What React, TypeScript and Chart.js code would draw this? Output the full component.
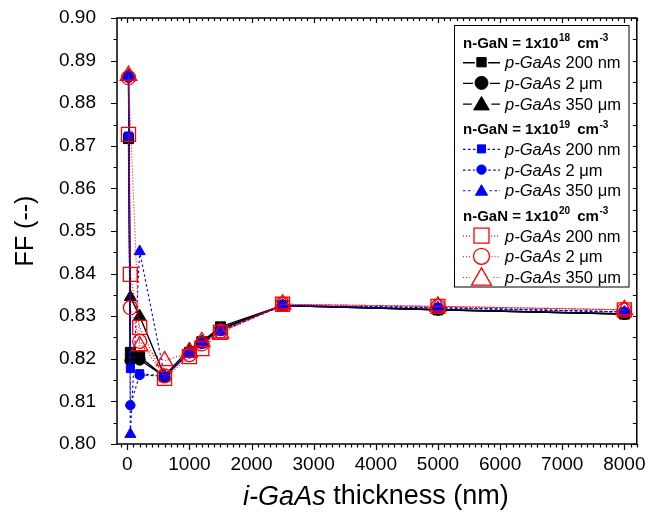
import React, { useEffect, useRef } from "react";
import { Chart, registerables } from "chart.js";

Chart.register(...registerables);

// ---------------- data ----------------
const thickness = [20, 50, 200, 600, 1000, 1200, 1500, 2500, 5000, 8000];

// n-GaN = 1x10^18 cm^-3
const n18_200nm = [0.8717, 0.8215, 0.8205, 0.8158, 0.8215, 0.824, 0.8275, 0.8325, 0.8315, 0.8305];
const n18_2um = [0.8862, 0.8196, 0.8198, 0.8158, 0.8215, 0.8238, 0.827, 0.8325, 0.8315, 0.8305];
const n18_350um = [0.8865, 0.8345, 0.83, 0.816, 0.8223, 0.824, 0.827, 0.8325, 0.8315, 0.8305];
// n-GaN = 1x10^19 cm^-3
const n19_200nm = [0.8723, 0.8177, 0.8165, 0.8159, 0.8213, 0.8235, 0.8265, 0.8325, 0.832, 0.831];
const n19_2um = [0.886, 0.8091, 0.8162, 0.8159, 0.8213, 0.8235, 0.8265, 0.8325, 0.832, 0.831];
const n19_350um = [0.8865, 0.8023, 0.8452, 0.816, 0.8215, 0.8237, 0.8265, 0.8325, 0.832, 0.831];
// n-GaN = 1x10^20 cm^-3
const n20_200nm = [0.8727, 0.8398, 0.8274, 0.8154, 0.8205, 0.8224, 0.8262, 0.8328, 0.8323, 0.8315];
const n20_2um = [0.886, 0.832, 0.8241, 0.816, 0.821, 0.8235, 0.8265, 0.8328, 0.8323, 0.8315];
const n20_350um: (number | null)[] = [0.8865, null, 0.823, 0.8195, 0.8215, 0.824, 0.826, 0.8328, 0.8323, 0.8315];

const dopingExponents = ["18", "19", "20"];
const pThicknessLabels = ["200 nm", "2 \u03bcm", "350 \u03bcm"];

const xTicks = [0, 1000, 2000, 3000, 4000, 5000, 6000, 7000, 8000];
const yTicks = [0.8, 0.81, 0.82, 0.83, 0.84, 0.85, 0.86, 0.87, 0.88, 0.89, 0.9];

const seriesValues = [
  n18_200nm, n18_2um, n18_350um,
  n19_200nm, n19_2um, n19_350um,
  n20_200nm, n20_2um, n20_350um,
];

// ---------------- styles ----------------
const FONT = '"Liberation Sans", Arial, Helvetica, sans-serif';

type Style = {
  color: string;
  shape: "rect" | "circle" | "triangle";
  r: number; // plot radius
  lr: number; // legend radius
  filled: boolean;
  dash: number[];
  lineWidth: number;
  pointBorder: number;
  order: number;
};

const groupLook = [
  { color: "#000000", filled: true, dash: [] as number[], lineWidth: 1.4, pointBorder: 1, order: 30 },
  { color: "#0000ff", filled: true, dash: [2.5, 2.5], lineWidth: 1.1, pointBorder: 1, order: 20 },
  { color: "#ff0000", filled: false, dash: [1, 2], lineWidth: 1.1, pointBorder: 1.3, order: 10 },
];
const shapes: ("rect" | "circle" | "triangle")[] = ["rect", "circle", "triangle"];
const plotRadius = [
  [7.1, 5.5, 6.9],
  [5.7, 4.7, 6.4],
  [9.9, 7.0, 9.5],
];
const legendRadius = [
  [6.6, 6.5, 9.0],
  [5.7, 4.7, 7.0],
  [10.6, 8.0, 11.5],
];

const styles: Style[] = [];
for (let g = 0; g < 3; g++) {
  for (let k = 0; k < 3; k++) {
    const lk = groupLook[g];
    styles.push({
      color: lk.color,
      shape: shapes[k],
      r: plotRadius[g][k],
      lr: legendRadius[g][k],
      filled: lk.filled,
      dash: lk.dash,
      lineWidth: lk.lineWidth,
      pointBorder: lk.pointBorder,
      order: lk.order - k,
    });
  }
}

function drawMarker(ctx: CanvasRenderingContext2D, x: number, y: number, st: Style, r: number) {
  ctx.save();
  ctx.setLineDash([]);
  ctx.beginPath();
  if (st.shape === "rect") {
    const s = Math.SQRT1_2 * r;
    ctx.rect(x - s, y - s, 2 * s, 2 * s);
  } else if (st.shape === "circle") {
    ctx.arc(x, y, r, 0, Math.PI * 2);
  } else {
    let a = 0;
    ctx.moveTo(x + Math.sin(a) * r, y - Math.cos(a) * r);
    a += (2 * Math.PI) / 3;
    ctx.lineTo(x + Math.sin(a) * r, y - Math.cos(a) * r);
    a += (2 * Math.PI) / 3;
    ctx.lineTo(x + Math.sin(a) * r, y - Math.cos(a) * r);
    ctx.closePath();
  }
  if (st.filled) {
    ctx.fillStyle = st.color;
    ctx.fill();
  }
  ctx.strokeStyle = st.color;
  ctx.lineWidth = st.pointBorder;
  ctx.stroke();
  ctx.restore();
}

const decorPlugin = {
  id: "decor",
  afterDraw(chart: any) {
    const ctx: CanvasRenderingContext2D = chart.ctx;
    const { left, right, top, bottom } = chart.chartArea;
    const xs = chart.scales.x;
    const ys = chart.scales.y;
    ctx.save();

    // frame
    ctx.strokeStyle = "#000";
    ctx.lineWidth = 1.5;
    ctx.setLineDash([]);
    ctx.strokeRect(left, top, right - left, bottom - top);

    // y ticks
    ctx.lineWidth = 1.2;
    for (let i = 0; i <= 20; i++) {
      const v = 0.8 + i * 0.005;
      const y = Math.round(ys.getPixelForValue(v)) + 0.5;
      const major = i % 2 === 0;
      ctx.beginPath();
      ctx.moveTo(left - (major ? 6 : 3.5), y);
      ctx.lineTo(left, y);
      ctx.moveTo(right - 4, y);
      ctx.lineTo(right, y);
      ctx.stroke();
    }
    // x ticks
    for (let i = -2; i <= 82; i++) {
      const v = i * 100;
      if (v < xs.min || v > xs.max) continue;
      const x = Math.round(xs.getPixelForValue(v)) + 0.5;
      const major = i % 10 === 0;
      ctx.beginPath();
      ctx.moveTo(x, bottom);
      ctx.lineTo(x, bottom + (major ? 6 : 3.5));
      ctx.moveTo(x, top);
      ctx.lineTo(x, top + (major ? 5 : 3));
      ctx.stroke();
    }

    // axis titles
    ctx.fillStyle = "#000";
    ctx.textBaseline = "middle";
    ctx.textAlign = "left";
    const xSize = 27;
    ctx.font = `italic ${xSize}px ${FONT}`;
    const a = "i-GaAs";
    const wa = ctx.measureText(a).width;
    ctx.font = `${xSize}px ${FONT}`;
    const b = " thickness (nm)";
    const wb = ctx.measureText(b).width;
    const cxT = (left + right) / 2 - 1;
    const startX = cxT - (wa + wb) / 2;
    ctx.font = `italic ${xSize}px ${FONT}`;
    ctx.fillText(a, startX, 497);
    ctx.font = `${xSize}px ${FONT}`;
    ctx.fillText(b, startX + wa, 497);

    ctx.save();
    ctx.translate(26, (top + bottom) / 2);
    ctx.rotate(-Math.PI / 2);
    ctx.textAlign = "center";
    ctx.font = `25px ${FONT}`;
    ctx.fillText("FF (--)", 0, 0);
    ctx.restore();

    // legend
    const bx = 454.5, by = 25.5, bw = 174.5, bh = 261.5;
    ctx.fillStyle = "#fff";
    ctx.fillRect(bx, by, bw, bh);
    ctx.strokeStyle = "#000";
    ctx.lineWidth = 1;
    ctx.strokeRect(bx, by, bw, bh);

    ctx.textBaseline = "alphabetic";
    ctx.textAlign = "left";
    for (let g = 0; g < 3; g++) {
      const hy = 41.5 + g * 86.7;
      // header
      let x = 463;
      const base = hy + 6;
      ctx.fillStyle = "#000";
      ctx.font = `bold 15px ${FONT}`;
      const h1 = "n-GaN = 1x10";
      ctx.fillText(h1, x, base);
      x += ctx.measureText(h1).width + 0.5;
      ctx.font = `bold 10px ${FONT}`;
      ctx.fillText(dopingExponents[g], x, base - 6.5);
      x += ctx.measureText(dopingExponents[g]).width + 3;
      ctx.font = `bold 15px ${FONT}`;
      ctx.fillText(" cm", x, base);
      x += ctx.measureText(" cm").width + 0.5;
      ctx.font = `bold 10px ${FONT}`;
      ctx.fillText("-3", x, base - 6.5);

      for (let k = 0; k < 3; k++) {
        const st = styles[g * 3 + k];
        const cy = hy + 20.7 * (k + 1);
        const mx = 481.5;
        const gap = st.shape === "triangle" ? st.lr * 0.866 + 2 : (st.shape === "rect" ? st.lr * Math.SQRT1_2 : st.lr) + 2;
        ctx.save();
        ctx.strokeStyle = st.color;
        ctx.lineWidth = st.lineWidth;
        ctx.setLineDash(st.dash);
        ctx.beginPath();
        ctx.moveTo(463, cy + 0.5);
        ctx.lineTo(mx - gap, cy + 0.5);
        ctx.moveTo(mx + gap, cy + 0.5);
        ctx.lineTo(500, cy + 0.5);
        ctx.stroke();
        ctx.restore();
        const my = st.shape === "triangle" ? cy + st.lr * 0.2 : cy;
        drawMarker(ctx, mx, my, st, st.lr);

        ctx.fillStyle = "#000";
        ctx.font = `italic 16.5px ${FONT}`;
        const it = "p-GaAs";
        ctx.fillText(it, 505, cy + 6);
        const wi = ctx.measureText(it).width;
        ctx.font = `16.5px ${FONT}`;
        ctx.fillText(" " + pThicknessLabels[k], 505 + wi, cy + 6);
      }
    }
    ctx.restore();
  },
};

export default function App() {
  const ref = useRef<HTMLCanvasElement | null>(null);

  useEffect(() => {
    if (!ref.current) return;
    const datasets = seriesValues.map((vals, i) => {
      const st = styles[i];
      const pts = thickness
        .map((x, j) => ({ x, y: vals[j] }))
        .filter((p) => p.y !== null && p.y !== undefined);
      return {
        label: `${dopingExponents[Math.floor(i / 3)]} ${pThicknessLabels[i % 3]}`,
        data: pts,
        borderColor: st.color,
        backgroundColor: st.filled ? st.color : "rgba(0,0,0,0)",
        borderWidth: st.lineWidth,
        borderDash: st.dash,
        pointStyle: st.shape,
        pointRadius: st.r,
        pointBorderWidth: st.pointBorder,
        pointBorderColor: st.color,
        pointBackgroundColor: st.filled ? st.color : "rgba(0,0,0,0)",
        tension: 0,
        fill: false,
        spanGaps: true,
        order: st.order,
        clip: false as any,
      };
    });

    const chart = new Chart(ref.current, {
      type: "line",
      data: { datasets },
      options: {
        responsive: false,
        animation: false,
        devicePixelRatio: 1,
        layout: { padding: { left: 0, right: 10, top: 18, bottom: 0 } },
        plugins: {
          legend: { display: false },
          tooltip: { enabled: false },
          title: { display: false },
        },
        scales: {
          x: {
            type: "linear",
            min: -165,
            max: 8200,
            afterBuildTicks: (s: any) => {
              s.ticks = xTicks.map((v) => ({ value: v }));
            },
            afterFit: (s: any) => {
              s.height = 76;
              s.paddingLeft = 0;
              s.paddingRight = 0;
            },
            grid: { display: false, drawTicks: false },
            border: { display: false },
            ticks: {
              padding: 9,
              color: "#000",
              font: { family: FONT, size: 19 },
              maxRotation: 0,
              autoSkip: false,
              callback: (v: any) => String(v),
            },
          },
          y: {
            type: "linear",
            min: 0.8,
            max: 0.9,
            afterBuildTicks: (s: any) => {
              s.ticks = yTicks.map((v) => ({ value: v }));
            },
            afterFit: (s: any) => {
              s.width = 117;
              s.paddingTop = 0;
              s.paddingBottom = 0;
            },
            grid: { display: false, drawTicks: false },
            border: { display: false },
            ticks: {
              padding: 21,
              color: "#000",
              font: { family: FONT, size: 19 },
              autoSkip: false,
              callback: (v: any) => Number(v).toFixed(2),
            },
          },
        },
      },
      plugins: [decorPlugin],
    } as any);

    return () => chart.destroy();
  }, []);

  return (
    <div style={{ position: "absolute", left: 0, top: 0, width: 648, height: 520, background: "#fff" }}>
      <canvas ref={ref} width={648} height={520} style={{ display: "block", width: 648, height: 520 }} />
    </div>
  );
}
